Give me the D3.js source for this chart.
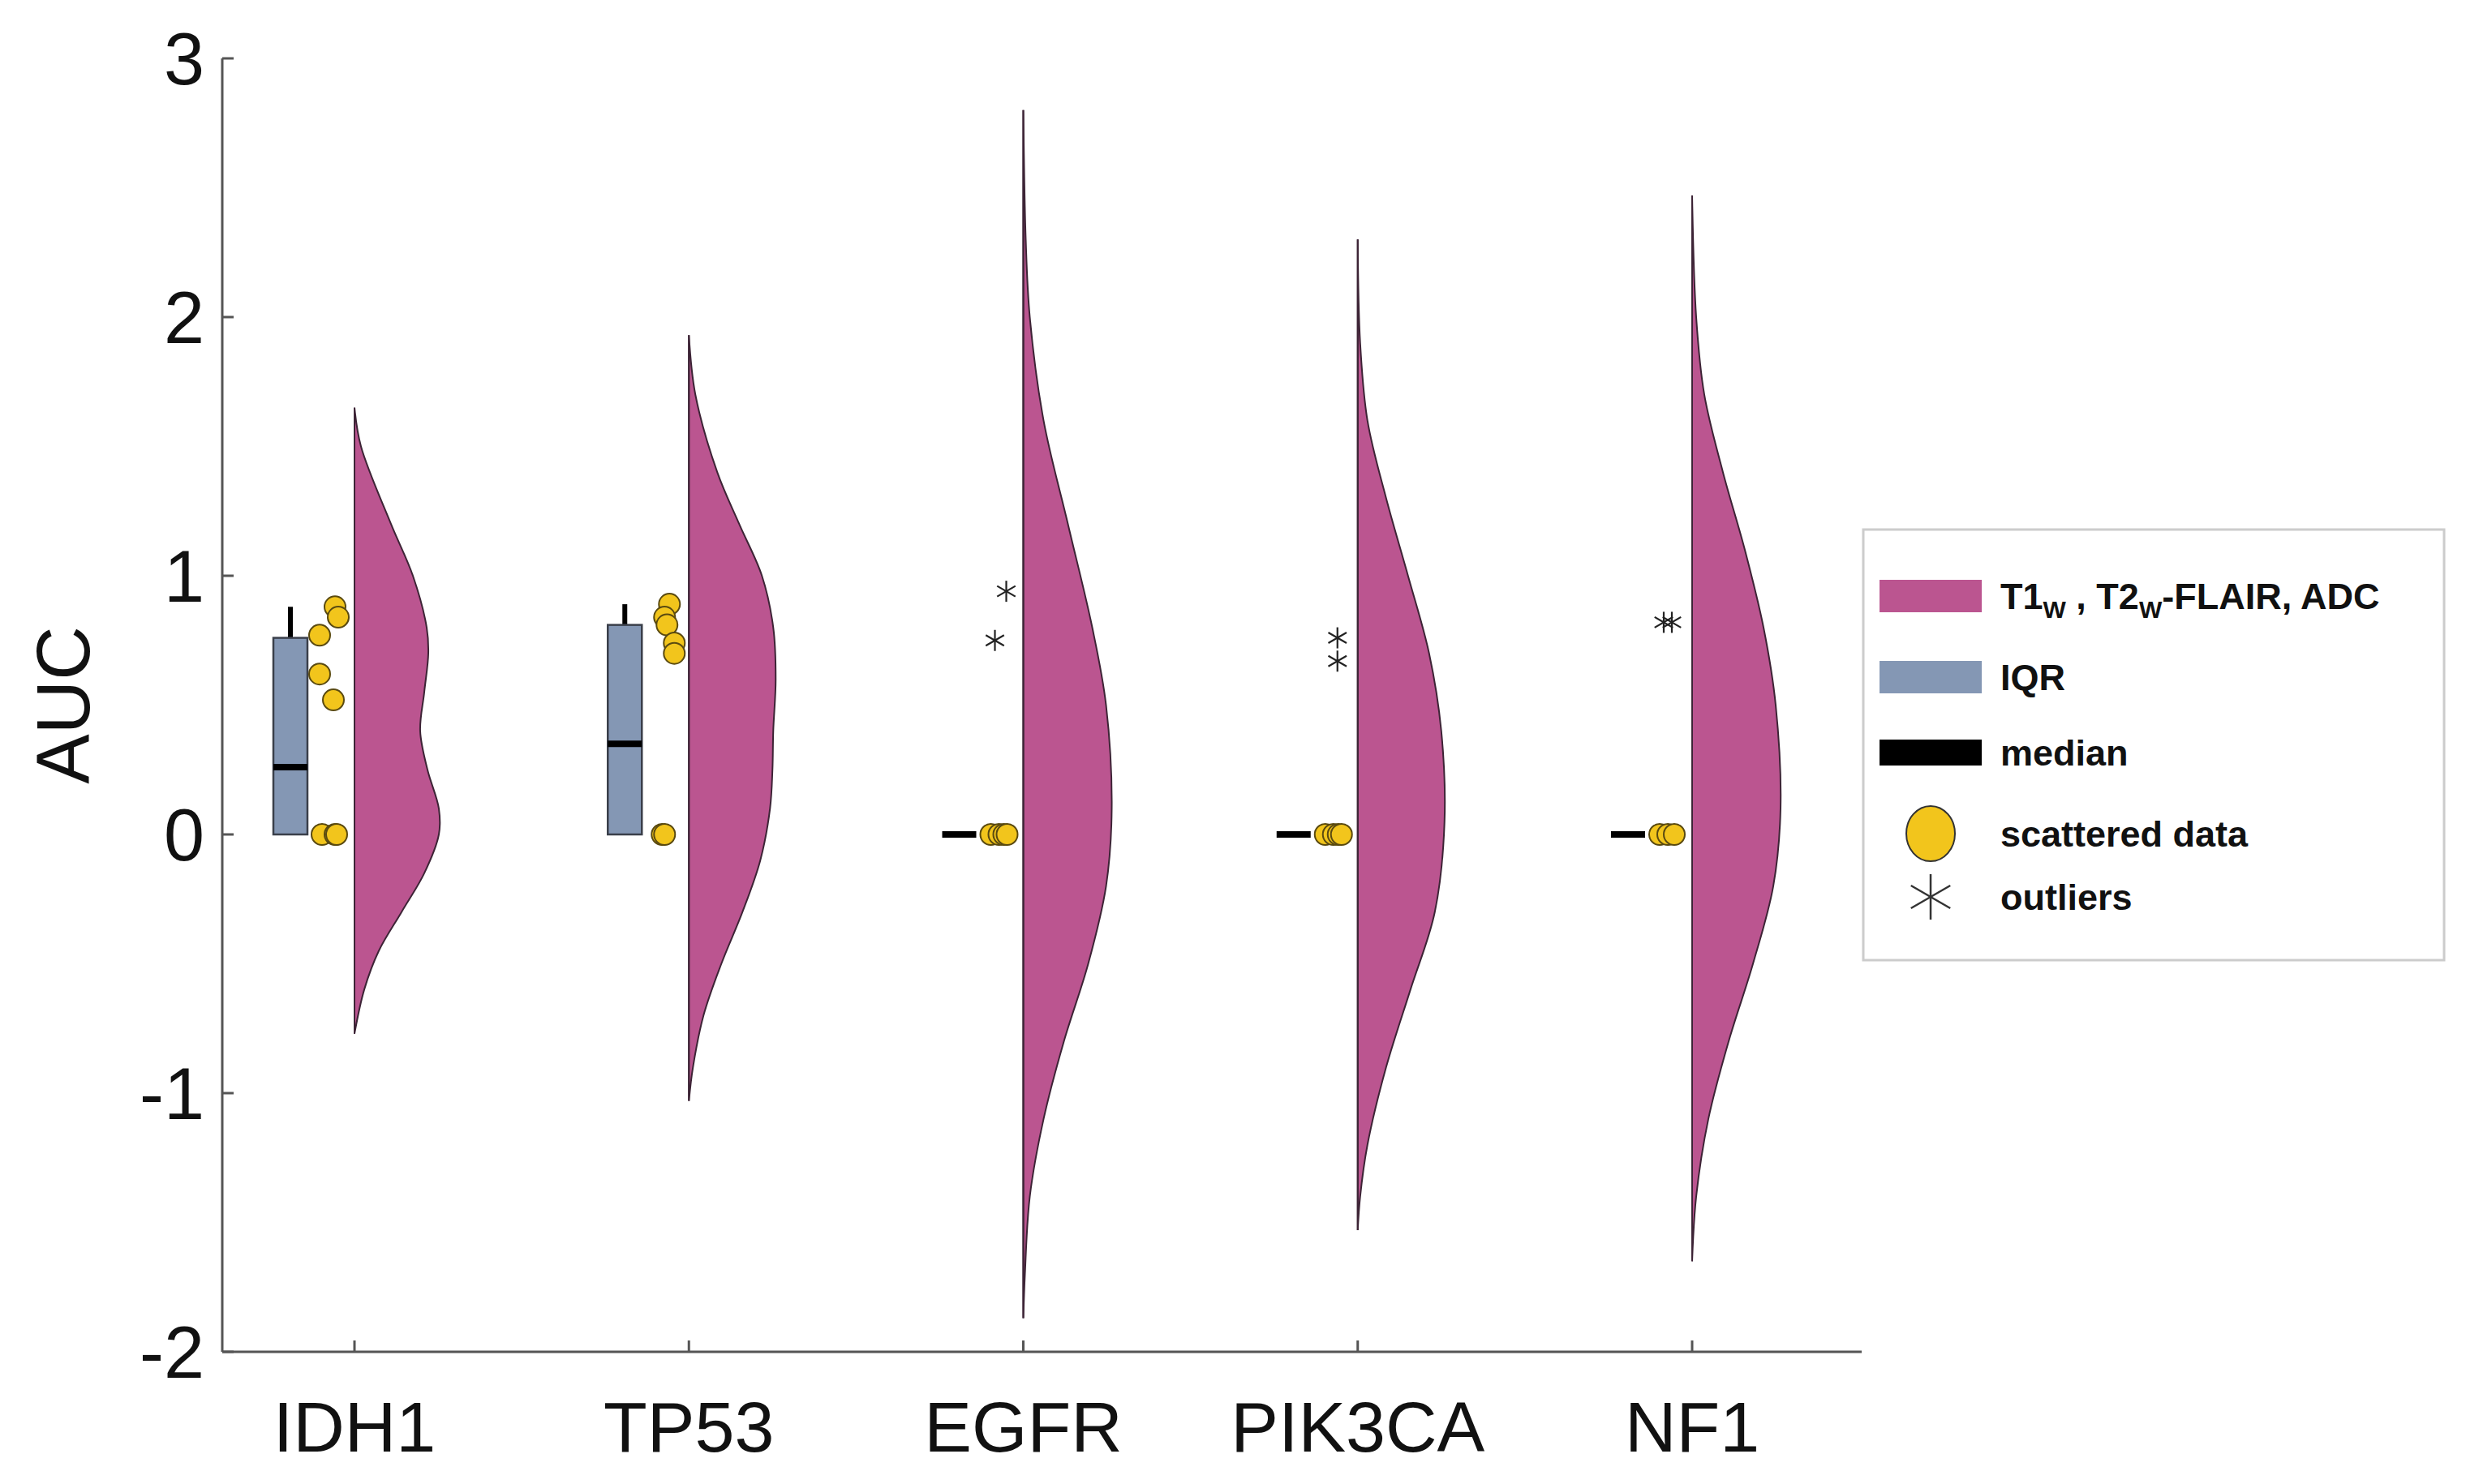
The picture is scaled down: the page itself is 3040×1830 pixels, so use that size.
<!DOCTYPE html>
<html><head><meta charset="utf-8">
<script src="https://cdn.jsdelivr.net/npm/d3@7"></script>
<style>body{margin:0;background:#fff}</style>
</head><body>
<svg id="c" width="3040" height="1830"></svg>
<script>
const categories = ["IDH1","TP53","EGFR","PIK3CA","NF1"];
const yTicks = [-2,-1,0,1,2,3];
// box stats: [q1, median, q3, whiskerTop]
const boxStats = [[0,0.26,0.76,0.88],[0,0.35,0.81,0.89],[0,0,0,0],[0,0,0,0],[0,0,0,0]];
const hasBox = [true,true,false,false,false];
const scatter = [
  [0.88,0.84,0.77,0.62,0.52,0,0,0],
  [0.89,0.84,0.81,0.74,0.70,0,0],
  [0,0,0,0],
  [0,0,0,0],
  [0,0,0]
];
const scatterJitter = [
  [-24,-20,-43,-43,-26,-40,-24,-22],
  [-24,-30,-27,-18,-18,-33,-30],
  [-40,-30,-24,-20],
  [-40,-30,-24,-20],
  [-40,-30,-22]
];
const outliers = [[],[],[0.94,0.75],[0.76,0.67],[0.82,0.82]];
const outlierJitter = [[],[],[-21,-35],[-25,-25],[-35,-25]];
// half-violin density profiles [value, relative width]
const density = [
  [[1.65,0],[1.5,8],[1.2,45],[1.0,72],[0.8,89],[0.7,91],[0.55,86],[0.4,81],[0.25,90],[0.1,104],[0.0,104],[-0.15,86],[-0.3,58],[-0.45,30],[-0.6,12],[-0.77,0]],
  [[1.93,0],[1.7,8],[1.4,35],[1.2,62],[1.0,90],[0.8,104],[0.6,107],[0.4,104],[0.25,103],[0.1,100],[-0.1,88],[-0.3,66],[-0.5,40],[-0.7,18],[-0.9,5],[-1.03,0]],
  [[2.8,0],[2.3,3],[2.0,8],[1.6,25],[1.2,55],[0.8,85],[0.5,102],[0.1,109],[-0.2,102],[-0.5,80],[-0.8,50],[-1.1,25],[-1.4,8],[-1.7,2],[-1.87,0]],
  [[2.3,0],[1.9,3],[1.6,12],[1.3,35],[1.0,62],[0.7,88],[0.4,103],[0.05,107],[-0.3,95],[-0.6,65],[-0.9,35],[-1.2,12],[-1.4,3],[-1.53,0]],
  [[2.47,0],[2.0,5],[1.7,15],[1.4,38],[1.1,65],[0.8,88],[0.5,103],[0.1,109],[-0.2,100],[-0.5,75],[-0.8,45],[-1.1,20],[-1.4,5],[-1.65,0]]
];
const legendItems = ["T1W, T2W-FLAIR, ADC","IQR","median","scattered data","outliers"];

const svg = d3.select("#c");
const font = "'Liberation Sans', Arial, sans-serif";
const y = d3.scaleLinear().domain([-2,3]).range([1667,72]);
const x = d3.scalePoint().domain(categories).range([437,2086]);
const w = d3.scaleLinear().domain([0,109]).range([0,109]);
const X0 = 274, X1 = 2295;
const axisCol = "#555";

const area = d3.area().y(d=>y(d[0])).x0(0).x1(d=>w(d[1])).curve(d3.curveCatmullRom);
categories.forEach((c,i)=>{
  const g = svg.append("g").attr("transform",`translate(${x(c)},0)`);
  g.append("path").attr("d",area(density[i])).attr("fill","#bb5590").attr("stroke","#3d2436").attr("stroke-width",2);
  const d = density[i];
  g.append("line").attr("x1",0).attr("x2",0).attr("y1",y(d[0][0])).attr("y2",y(d[d.length-1][0])).attr("stroke","#3d2436").attr("stroke-width",2);
  const b = boxStats[i];
  if(hasBox[i]){
    g.append("line").attr("x1",-79).attr("x2",-79).attr("y1",y(b[2])).attr("y2",y(b[3])).attr("stroke","#000").attr("stroke-width",6);
    g.append("rect").attr("x",-100).attr("width",42).attr("y",y(b[2])).attr("height",y(b[0])-y(b[2])).attr("fill","#8497b4").attr("stroke","#3a3f4a").attr("stroke-width",2.5);
  }
  g.append("line").attr("x1",-100).attr("x2",-58).attr("y1",y(b[1])).attr("y2",y(b[1])).attr("stroke","#000").attr("stroke-width",8);
  scatter[i].forEach((v,j)=>{
    g.append("circle").attr("cx",scatterJitter[i][j]).attr("cy",y(v)).attr("r",13).attr("fill","#f2c51c").attr("stroke","#5a4a10").attr("stroke-width",2);
  });
  outliers[i].forEach((v,j)=>{
    const cx=outlierJitter[i][j], cy=y(v), r=13;
    const s = g.append("g").attr("stroke","#222").attr("stroke-width",2.2);
    [0,60,120].forEach(a=>{const t=a*Math.PI/180;
      s.append("line").attr("x1",cx-r*Math.sin(t)).attr("x2",cx+r*Math.sin(t)).attr("y1",cy-r*Math.cos(t)).attr("y2",cy+r*Math.cos(t));});
  });
});

svg.append("line").attr("x1",X0).attr("x2",X0).attr("y1",y(3)).attr("y2",y(-2)).attr("stroke",axisCol).attr("stroke-width",3);
svg.append("line").attr("x1",X0).attr("x2",X1).attr("y1",y(-2)).attr("y2",y(-2)).attr("stroke",axisCol).attr("stroke-width",3);
yTicks.forEach(t=>{
  svg.append("line").attr("x1",X0).attr("x2",X0+14).attr("y1",y(t)).attr("y2",y(t)).attr("stroke",axisCol).attr("stroke-width",3);
  svg.append("text").attr("x",X0-22).attr("y",y(t)).attr("dy","0.36em").attr("text-anchor","end")
    .attr("font-family",font).attr("font-size",90).attr("fill","#111").text(t);
});
categories.forEach(c=>{
  svg.append("line").attr("x1",x(c)).attr("x2",x(c)).attr("y1",y(-2)).attr("y2",y(-2)-14).attr("stroke",axisCol).attr("stroke-width",3);
  svg.append("text").attr("x",x(c)).attr("y",1790).attr("text-anchor","middle")
    .attr("font-family",font).attr("font-size",88).attr("fill","#111").text(c);
});
svg.append("text").attr("transform",`translate(110,${y(0.5)}) rotate(-90)`).attr("text-anchor","middle")
  .attr("font-family",font).attr("font-size",92).attr("fill","#111").text("AUC");

const L = svg.append("g");
L.append("rect").attr("x",2297).attr("y",653).attr("width",716).attr("height",531).attr("fill","#fff").attr("stroke","#ccc").attr("stroke-width",3);
const rowsY = [735,835,928,1028,1106];
const tx = 2466;
const lf = {"font-family":font,"font-size":45,"font-weight":"bold","fill":"#111"};
function txt(i){const t=L.append("text").attr("x",tx).attr("y",rowsY[i]).attr("dy","0.36em");Object.entries(lf).forEach(([k,v])=>t.attr(k,v));return t;}
L.append("rect").attr("x",2317).attr("y",rowsY[0]-20).attr("width",126).attr("height",40).attr("fill","#bb5590");
const t0 = txt(0);
t0.append("tspan").text("T1");
t0.append("tspan").attr("font-size",30).attr("dy",11).text("W");
t0.append("tspan").attr("dy",-11).text(" , T2");
t0.append("tspan").attr("font-size",30).attr("dy",11).text("W");
t0.append("tspan").attr("dy",-11).text("-FLAIR, ADC");
L.append("rect").attr("x",2317).attr("y",rowsY[1]-20).attr("width",126).attr("height",40).attr("fill","#8497b4");
txt(1).text(legendItems[1]);
L.append("rect").attr("x",2317).attr("y",rowsY[2]-16).attr("width",126).attr("height",32).attr("fill","#000");
txt(2).text(legendItems[2]);
L.append("ellipse").attr("cx",2380).attr("cy",rowsY[3]).attr("rx",30).attr("ry",34).attr("fill","#f2c51c").attr("stroke","#333").attr("stroke-width",2);
txt(3).text(legendItems[3]);
const s = L.append("g").attr("stroke","#333").attr("stroke-width",2.5);
[0,60,120].forEach(a=>{const t=a*Math.PI/180,r=28,cx=2380,cy=rowsY[4];
  s.append("line").attr("x1",cx-r*Math.sin(t)).attr("x2",cx+r*Math.sin(t)).attr("y1",cy-r*Math.cos(t)).attr("y2",cy+r*Math.cos(t));});
txt(4).text(legendItems[4]);
</script>
</body></html>
